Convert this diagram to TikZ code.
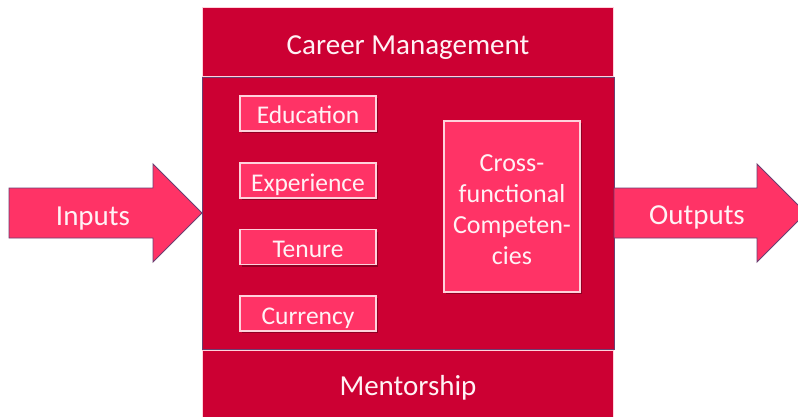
\documentclass[tikz,border=0pt]{standalone}
\usepackage{fontspec}
\setmainfont{Carlito}
\usetikzlibrary{shadows}
\definecolor{darkred}{HTML}{CC0033}
\definecolor{pinkfill}{HTML}{FF3366}
\definecolor{lightedge}{HTML}{FFD2DC}
\definecolor{purpleedge}{HTML}{6A3F72}
\definecolor{textwhite}{HTML}{FFF2F5}
\tikzset{
  bigband/.style={draw=lightedge, line width=0.8pt, fill=darkred},
  midband/.style={draw=purpleedge, line width=0.9pt, fill=darkred},
  smallbox/.style={rectangle, draw=lightedge, line width=1.6pt, fill=pinkfill,
    minimum width=136pt, minimum height=35pt, inner sep=0pt,
    text height=21pt, text depth=0pt,
    text=textwhite, font=\fontsize{25.5}{30}\selectfont,
    drop shadow={shadow xshift=2pt, shadow yshift=-2pt, fill=black, opacity=0.3}},
  bigarrow/.style={draw=purpleedge, line width=0.9pt, fill=pinkfill},
  biglabel/.style={text=textwhite, font=\fontsize{29}{34}\selectfont, inner sep=0pt, anchor=base},
  boxtext/.style={text=textwhite, font=\fontsize{26}{31}\selectfont, align=center, inner sep=0pt}
}
\begin{document}
\begin{tikzpicture}[x=1pt,y=-1pt]
\useasboundingbox (0,0) rectangle (798,417);
% bands
\path[bigband] (202,7) rectangle (613,76);
\path[midband] (202,77) rectangle (614,349);
\path[bigband] (202,350) rectangle (613,425);
\node[biglabel] (cm) at (408,55) {Career Management};
\node[biglabel] (ms) at (408,395) {Mentorship};
% small boxes
\node[smallbox] (edu) at (308,113.5) {Education};
\node[smallbox] (exp) at (308,180.5) {Experience};
\node[smallbox] (ten) at (308,247) {Tenure};
\node[smallbox] (cur) at (308,313.5) {Currency};
\node[smallbox, minimum width=136pt, minimum height=171pt, text height=, text depth=] (cfc) at (512,206.5) {};
\node[boxtext] (cfctext) at (512,210) {Cross-\\functional\\Competen-\\cies};
% arrows
\path[bigarrow] (9,188) -- (153,188) -- (153,164) -- (202,213) -- (153,262) -- (153,238) -- (9,238) -- cycle;
\node[biglabel] (in) at (93,225) {Inputs};
\path[bigarrow] (614,188) -- (757,188) -- (757,164) -- (806,213) -- (757,262) -- (757,238) -- (614,238) -- cycle;
\node[biglabel] (out) at (697,224) {Outputs};
\end{tikzpicture}
\end{document}
